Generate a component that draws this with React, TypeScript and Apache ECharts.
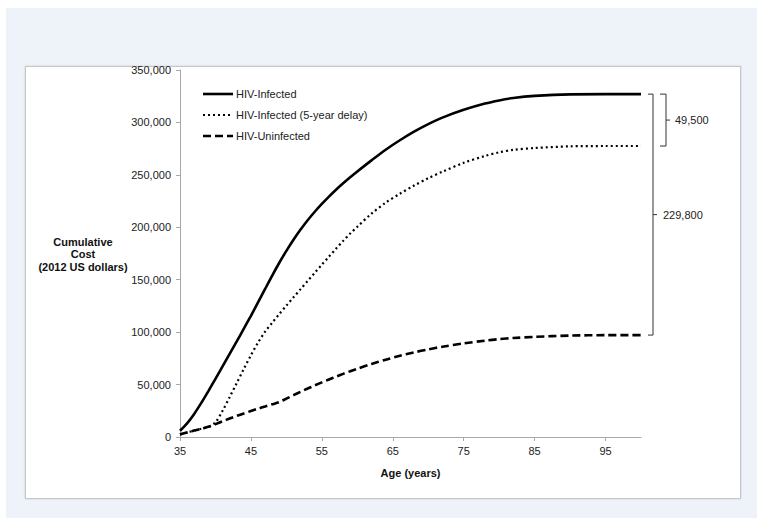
import React, { useEffect, useRef } from "react";
import * as echarts from "echarts";

const ages = [35, 36, 37, 38, 39, 40, 41, 42, 43, 44, 45, 46, 47, 48, 49, 50, 51, 52, 53, 54, 55, 56, 57, 58, 59, 60, 62, 64, 66, 68, 70, 72, 75, 78, 80, 82, 85, 90, 95, 100];
const infected = [6000, 13000, 22000, 32500, 43800, 55500, 67300, 79200, 91200, 103300, 115600, 128300, 141200, 154000, 166200, 177500, 188100, 197800, 206700, 214800, 222300, 229300, 235800, 241900, 247700, 253200, 263800, 274000, 283000, 291200, 298400, 304600, 312000, 318000, 321000, 323300, 325300, 326800, 327000, 327000];
const infectedDelay = [2500, 4300, 6100, 7900, 9700, 14000, 25000, 38000, 51500, 65000, 78000, 90000, 100500, 109000, 117300, 125300, 133200, 141000, 148800, 156600, 164400, 172000, 179600, 187000, 194000, 200500, 213000, 223500, 232000, 239800, 246800, 253000, 261500, 268000, 271500, 273800, 275600, 277200, 277500, 277500];
const uninfected = [2500, 4300, 6100, 7900, 9700, 12300, 15000, 17600, 20100, 22500, 24800, 27000, 29100, 31200, 33300, 36600, 39900, 43100, 46200, 49200, 52100, 54900, 57600, 60200, 62700, 65100, 69600, 73700, 77400, 80700, 83600, 86100, 89300, 91900, 93300, 94400, 95500, 96700, 97150, 97200];
const seriesNames = ["HIV-Infected", "HIV-Infected (5-year delay)", "HIV-Uninfected"];
const xTickValues = [35, 45, 55, 65, 75, 85, 95];
const yAxisTitle = "Cumulative\nCost\n(2012 US dollars)";
const xAxisTitle = "Age (years)";

const FONT = '"Liberation Sans", Arial, Helvetica, sans-serif';
const fmt = (v: number) => Math.round(v).toLocaleString("en-US");

const lineStyles: { width: number; dash: number[] | null }[] = [
  { width: 2.6, dash: null },
  { width: 2.2, dash: [2, 3] },
  { width: 2.6, dash: [8, 4] },
];

export default function App() {
  const ref = useRef<HTMLDivElement>(null);
  useEffect(() => {
    if (!ref.current) return;
    const chart = echarts.init(ref.current, null, { renderer: "svg" });
    const last = ages.length - 1;
    const brackets = [
      [ages[last], infected[last], infectedDelay[last], 0],
      [ages[last], infected[last], uninfected[last], 1],
    ];
    const mk = (i: number, data: number[]) => ({
      name: seriesNames[i],
      type: "line",
      data: ages.map((a, k) => [a, data[k]]),
      symbol: "none",
      smooth: 0.3,
      lineStyle: { color: "#000", width: lineStyles[i].width, type: lineStyles[i].dash || "solid" },
      itemStyle: { color: "#000" },
    });
    const legendGraphics: any[] = [];
    seriesNames.forEach((n, i) => {
      const y = 94 + i * 21;
      legendGraphics.push({
        type: "line",
        shape: { x1: 203, y1: y, x2: 233, y2: y },
        style: {
          stroke: "#000",
          lineWidth: lineStyles[i].width,
          lineDash: lineStyles[i].dash || undefined,
        },
      });
      legendGraphics.push({
        type: "text",
        x: 236,
        y,
        style: { text: n, font: `11px ${FONT}`, fill: "#222", align: "left", verticalAlign: "middle" },
      });
    });
    chart.setOption({
      animation: false,
      textStyle: { fontFamily: FONT },
      grid: { left: 180, right: 122, top: 70, bottom: 87 },
      xAxis: {
        type: "value",
        min: 35,
        max: 100,
        interval: 10,
        name: xAxisTitle,
        nameLocation: "middle",
        nameGap: 30,
        nameTextStyle: { fontSize: 11, fontWeight: "bold", color: "#111", fontFamily: FONT },
        axisLine: { lineStyle: { color: "#a8a8a8", width: 1 } },
        axisTick: { show: true, length: 4, lineStyle: { color: "#a8a8a8" }, customValues: xTickValues },
        axisLabel: { fontSize: 11, color: "#222", margin: 8, customValues: xTickValues },
        splitLine: { show: false },
      },
      yAxis: {
        type: "value",
        min: 0,
        max: 350000,
        interval: 50000,
        axisLine: { show: true, lineStyle: { color: "#a8a8a8", width: 1 } },
        axisTick: { show: true, length: 4, lineStyle: { color: "#a8a8a8" } },
        axisLabel: { fontSize: 11, color: "#222", margin: 9, formatter: (v: number) => fmt(v) },
        splitLine: { show: false },
      },
      graphic: [
        {
          type: "text",
          x: 83,
          y: 254,
          style: {
            text: yAxisTitle,
            font: `bold 11px ${FONT}`,
            fill: "#111",
            align: "center",
            verticalAlign: "middle",
            lineHeight: 12.5,
          },
        },
        ...legendGraphics,
      ],
      series: [
        mk(0, infected),
        mk(1, infectedDelay),
        mk(2, uninfected),
        {
          type: "custom",
          coordinateSystem: "cartesian2d",
          clip: false,
          silent: true,
          data: brackets,
          renderItem: (params: any, api: any) => {
            const xv = api.value(0);
            const top = api.value(1);
            const bot = api.value(2);
            const idx = api.value(3);
            const pT = api.coord([xv, top]);
            const pB = api.coord([xv, bot]);
            const off = idx === 0 ? [19, 25, 29, 34] : [7, 12, 16, 22];
            const x0 = pT[0] + off[0];
            const x1 = pT[0] + off[1];
            const x2 = pT[0] + off[2];
            const yT = pT[1];
            const yB = pB[1];
            const yM = (yT + yB) / 2;
            return {
              type: "group",
              children: [
                {
                  type: "polyline",
                  shape: { points: [[x0, yT], [x1, yT], [x1, yB], [x0, yB]] },
                  style: { stroke: "#333", lineWidth: 1, fill: "none" },
                },
                {
                  type: "line",
                  shape: { x1: x1, y1: yM, x2: x2, y2: yM },
                  style: { stroke: "#333", lineWidth: 1 },
                },
                {
                  type: "text",
                  x: pT[0] + off[3],
                  y: yM,
                  style: {
                    text: fmt(top - bot),
                    fill: "#222",
                    font: `11px ${FONT}`,
                    align: "left",
                    verticalAlign: "middle",
                  },
                },
              ],
            };
          },
        },
      ],
    });
    return () => chart.dispose();
  }, []);
  return (
    <div style={{ position: "fixed", left: 0, top: 0, width: 763, height: 524, background: "#fff" }}>
      <div style={{ position: "absolute", left: 6, top: 8, width: 751, height: 510, background: "#eef3fa" }} />
      <div
        style={{
          position: "absolute",
          left: 25,
          top: 66,
          width: 714,
          height: 431,
          background: "#fff",
          border: "1px solid #c6c6c6",
          boxShadow: "0 0 2px rgba(0,0,0,0.15)",
        }}
      />
      <div ref={ref} style={{ position: "absolute", left: 0, top: 0, width: 763, height: 524 }} />
    </div>
  );
}
